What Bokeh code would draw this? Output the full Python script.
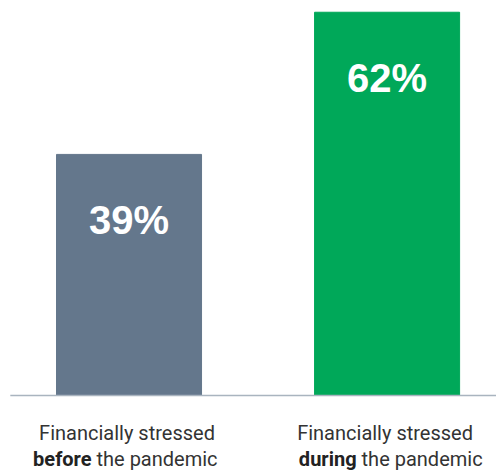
from bokeh.plotting import figure
from bokeh.models import Range1d, ColumnDataSource
from bokeh.core.properties import value
from bokeh.embed import file_html
from bokeh.resources import INLINE

# Data
categories = ["before", "during"]
values = [39, 62]
value_labels = ["39%", "62%"]
label_line1 = ["Financially stressed", "Financially stressed"]
label_bold = ["before", "during"]
label_rest = ["the pandemic", "the pandemic"]
colors = ["#64778c", "#00a859"]

xs = list(range(len(categories)))

p = figure(width=496, height=471, output_backend="svg", toolbar_location=None,
           min_border=0, x_range=Range1d(-0.498, 1.424), y_range=Range1d(-12.3, 63.9))
p.axis.visible = False
p.grid.visible = False
p.outline_line_color = None
p.background_fill_color = "white"
p.border_fill_color = "white"

src = ColumnDataSource(dict(x=xs, top=values, color=colors, lab=value_labels,
                            ly=[v - 10.6 for v in values], l1=label_line1,
                            lb=label_bold, lr=label_rest, zero=[0] * len(xs)))

p.vbar(x="x", top="top", bottom=0, width=0.562, color="color", source=src)

# baseline
p.segment(x0=[-0.46], y0=[0], x1=[1.424], y1=[0], line_color="#a9b4bf", line_width=1.6)

# value labels
p.text(x="x", y="ly", text="lab", source=src, text_color="white",
       text_font=value("Liberation Sans"), text_font_style="bold",
       text_font_size="40px", text_align="center", text_baseline="middle")

# category labels
font = value("Roboto")
p.text(x="x", y="zero", text="l1", source=src, text_color="#333333",
       text_font=font, text_font_size="20px", text_align="center",
       text_baseline="alphabetic", y_offset=38, x_offset=-2)

p.text(x=[xs[0]], y=[0], text=[label_bold[0]], text_color="#222222",
       text_font=font, text_font_style="bold", text_font_size="20px",
       text_align="right", text_baseline="alphabetic", y_offset=64, x_offset=-37.5)
p.text(x=[xs[0]], y=[0], text=[label_rest[0]], text_color="#333333",
       text_font=font, text_font_size="20px",
       text_align="left", text_baseline="alphabetic", y_offset=64, x_offset=-32.5)
p.text(x=[xs[1]], y=[0], text=[label_bold[1]], text_color="#222222",
       text_font=font, text_font_style="bold", text_font_size="20px",
       text_align="right", text_baseline="alphabetic", y_offset=64, x_offset=-30.5)
p.text(x=[xs[1]], y=[0], text=[label_rest[1]], text_color="#333333",
       text_font=font, text_font_size="20px",
       text_align="left", text_baseline="alphabetic", y_offset=64, x_offset=-25.5)

open("out.html", "w").write(file_html(p, INLINE))
